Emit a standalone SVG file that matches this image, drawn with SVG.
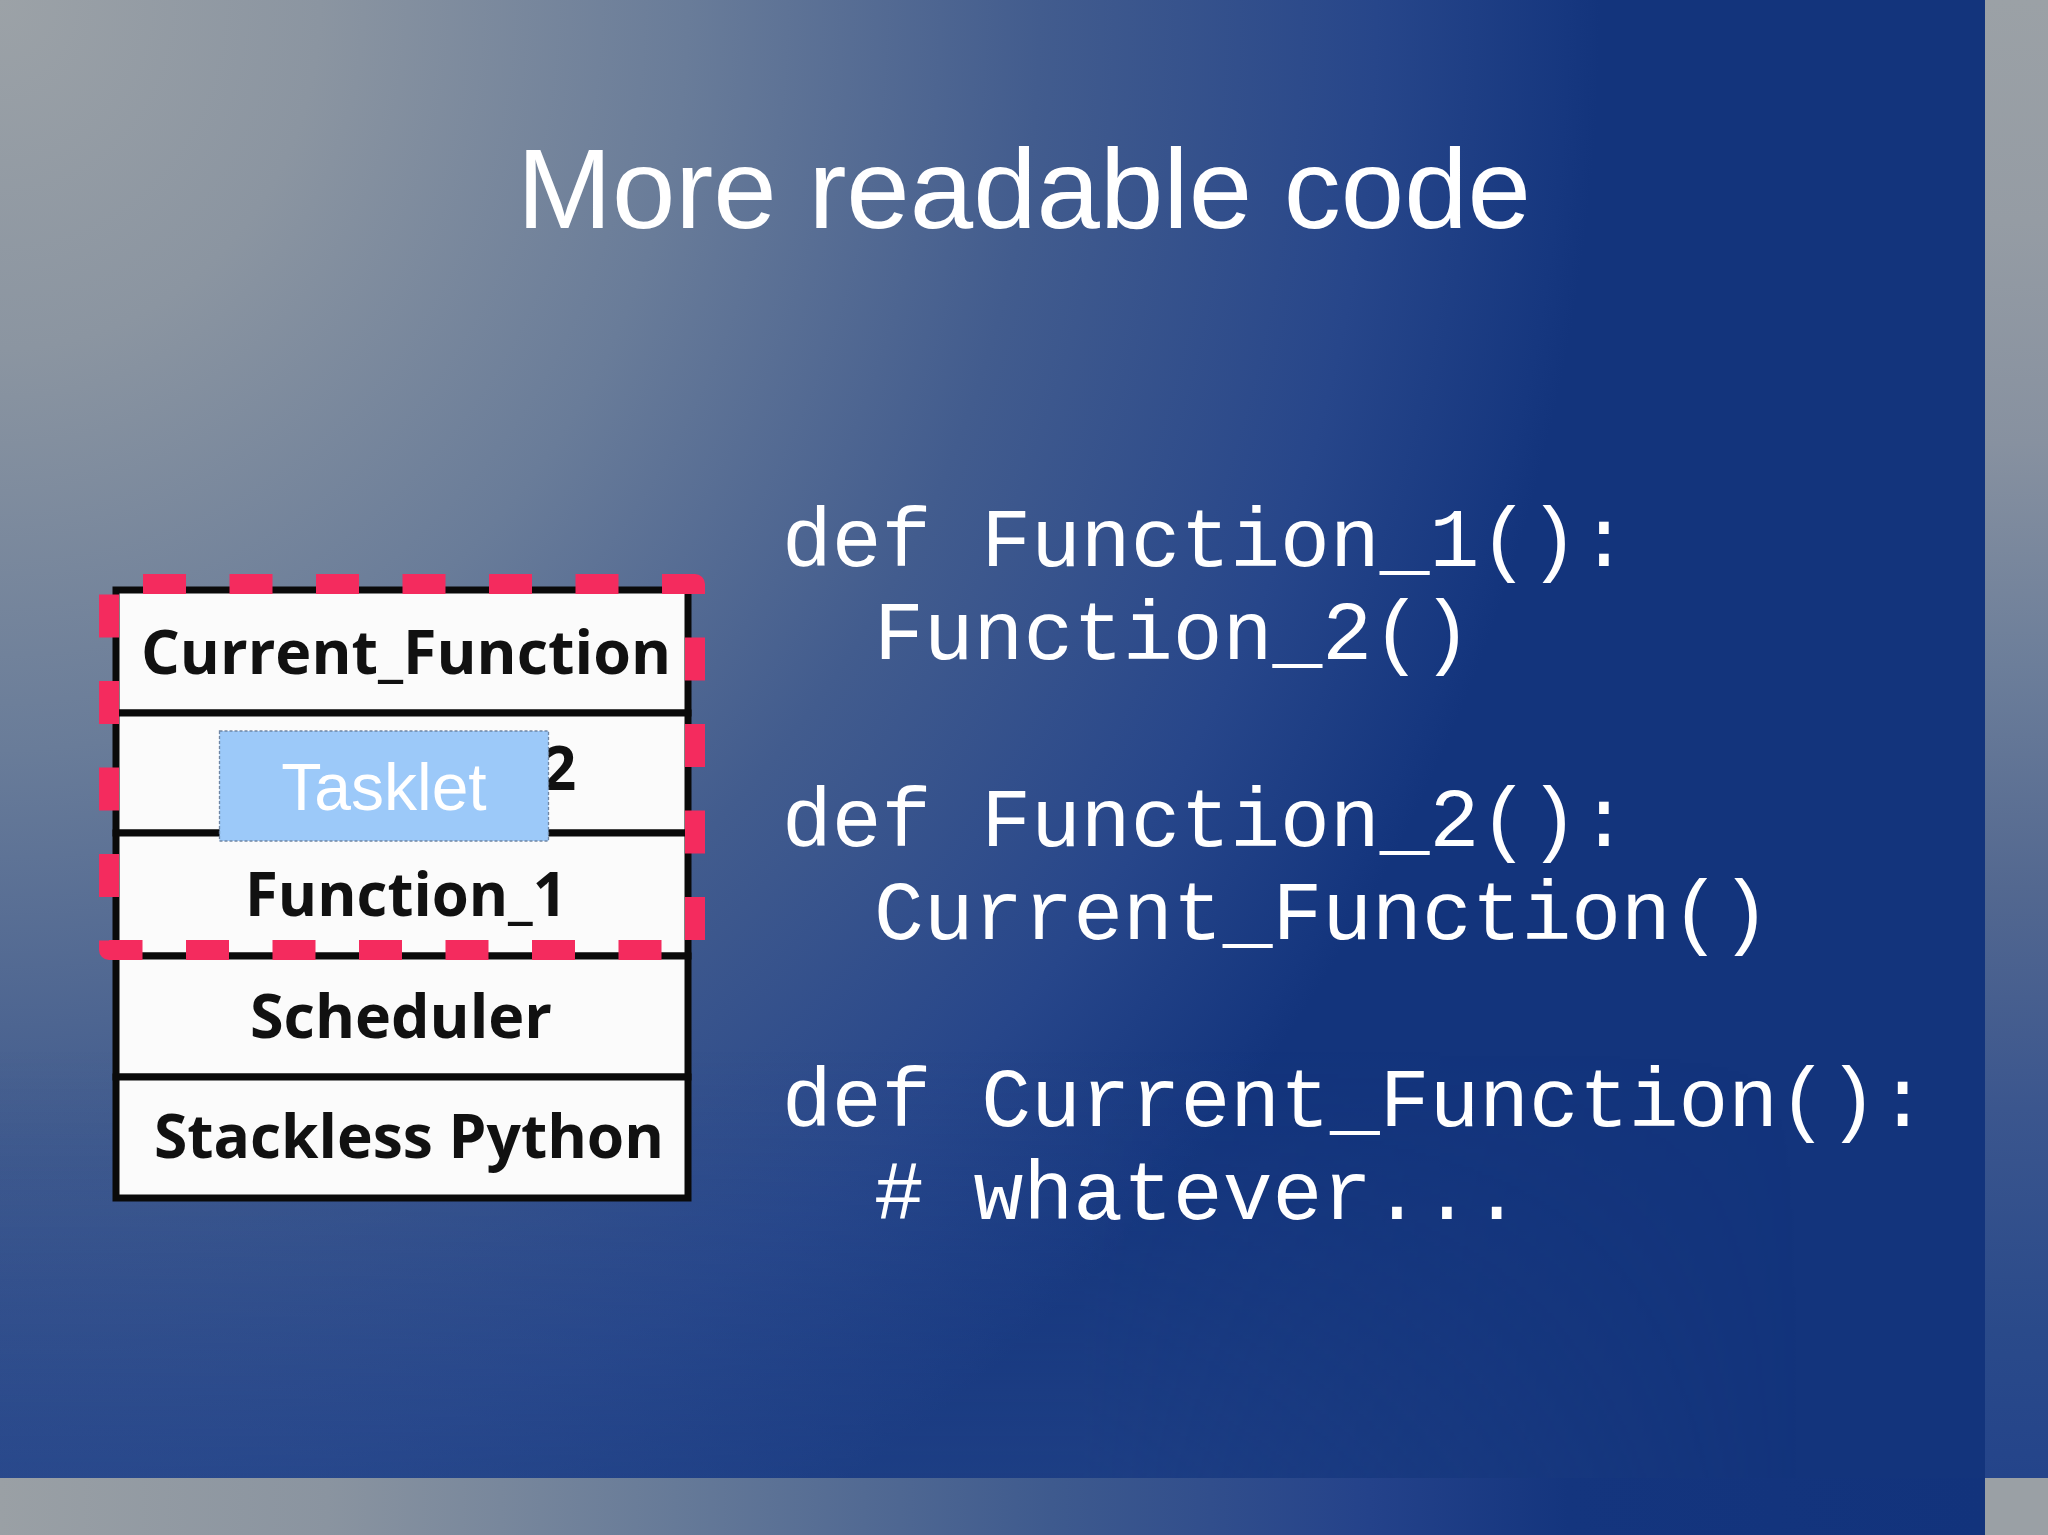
<svg xmlns="http://www.w3.org/2000/svg" width="2048" height="1535" viewBox="0 0 2048 1535">
  <defs>
    <radialGradient id="bgSlide" gradientUnits="userSpaceOnUse" cx="0" cy="0" r="1600" gradientTransform="scale(1,1.09)">
      <stop offset="0" stop-color="#9ca2a7"/>
      <stop offset="0.2" stop-color="#8b95a1"/>
      <stop offset="0.43" stop-color="#697c99"/>
      <stop offset="0.65" stop-color="#425c8e"/>
      <stop offset="0.86" stop-color="#27468a"/>
      <stop offset="0.98" stop-color="#16377f"/>
      <stop offset="1" stop-color="#13347c"/>
    </radialGradient>
    <linearGradient id="bottomGlow" gradientUnits="userSpaceOnUse" x1="0" y1="1050" x2="0" y2="1478">
      <stop offset="0" stop-color="#2a4b8e" stop-opacity="0"/>
      <stop offset="1" stop-color="#2a4b8e" stop-opacity="0.45"/>
    </linearGradient>
    <linearGradient id="glowFade" gradientUnits="userSpaceOnUse" x1="0" y1="0" x2="1800" y2="0">
      <stop offset="0" stop-color="#ffffff"/>
      <stop offset="0.6" stop-color="#ffffff"/>
      <stop offset="1" stop-color="#000000"/>
    </linearGradient>
    <mask id="glowMask" maskUnits="userSpaceOnUse" x="0" y="0" width="1985" height="1478">
      <rect x="0" y="0" width="1985" height="1478" fill="url(#glowFade)"/>
    </mask>
    <linearGradient id="bgRight" gradientUnits="userSpaceOnUse" x1="0" y1="0" x2="0" y2="1478">
      <stop offset="0" stop-color="#9ba1a6"/>
      <stop offset="0.15" stop-color="#959ca4"/>
      <stop offset="0.3" stop-color="#8791a0"/>
      <stop offset="0.45" stop-color="#6c7e9a"/>
      <stop offset="0.6" stop-color="#536890"/>
      <stop offset="0.75" stop-color="#3b568e"/>
      <stop offset="0.9" stop-color="#2a4a8a"/>
      <stop offset="1" stop-color="#24448a"/>
    </linearGradient>
    <linearGradient id="bgBottom" gradientUnits="userSpaceOnUse" x1="0" y1="0" x2="1985" y2="0">
      <stop offset="0" stop-color="#9aa0a5"/>
      <stop offset="0.165" stop-color="#8a94a0"/>
      <stop offset="0.34" stop-color="#667a98"/>
      <stop offset="0.53" stop-color="#3e5a8e"/>
      <stop offset="0.69" stop-color="#24428a"/>
      <stop offset="0.79" stop-color="#14357e"/>
      <stop offset="1" stop-color="#12337c"/>
    </linearGradient>
  </defs>
  <style>
    .title { font-family: "Liberation Sans", Arial, sans-serif; font-size: 114px; fill: #ffffff; }
    .code { font-family: "Courier New", "Liberation Mono", monospace; font-size: 83px; fill: #ffffff; }
    .row { fill: #fbfbfb; stroke: #0a0a0a; stroke-width: 7; }
    .rowtxt { font-family: "Open Sans", "Noto Sans", sans-serif; font-weight: 700; font-size: 60px; fill: #111111; }
    .tasklet { fill: #9cc9f9; stroke: #6f86a4; stroke-width: 1.3; stroke-dasharray: 3 2; }
    .tasklettxt { font-family: "Liberation Sans", Arial, sans-serif; font-size: 66px; fill: #ffffff; }
    .highlight { fill: none; stroke: #f42b5e; stroke-width: 20; stroke-dasharray: 43 43.5; stroke-dashoffset: 52.5; stroke-linejoin: round; }
  </style>

  <g id="background">
    <rect x="0" y="0" width="1985" height="1478" fill="url(#bgSlide)"/>
    <rect x="0" y="1050" width="1985" height="428" fill="url(#bottomGlow)" mask="url(#glowMask)"/>
    <rect x="1985" y="0" width="63" height="1478" fill="url(#bgRight)"/>
    <rect x="0" y="1478" width="1985" height="57" fill="url(#bgBottom)"/>
    <rect x="1985" y="1478" width="63" height="57" fill="#9aa0a5"/>
  </g>

  <g id="title">
    <text class="title" x="1024" y="228" text-anchor="middle">More readable code</text>
  </g>

  <g id="stack">
    <g id="row-current-function">
      <rect class="row" x="116" y="590" width="572" height="123"/>
      <text class="rowtxt" x="141" y="674" textLength="530" lengthAdjust="spacingAndGlyphs">Current_Function</text>
    </g>
    <g id="row-function-2">
      <rect class="row" x="116" y="713" width="572" height="120"/>
      <text class="rowtxt" x="542" y="790" font-size="54">2</text>
    </g>
    <g id="row-function-1">
      <rect class="row" x="116" y="833" width="572" height="123"/>
      <text class="rowtxt" x="245" y="916" textLength="322" lengthAdjust="spacingAndGlyphs">Function_1</text>
    </g>
    <g id="row-scheduler">
      <rect class="row" x="116" y="956" width="572" height="121"/>
      <text class="rowtxt" x="250" y="1038" textLength="302" lengthAdjust="spacingAndGlyphs">Scheduler</text>
    </g>
    <g id="row-stackless-python">
      <rect class="row" x="116" y="1077" width="572" height="121"/>
      <text class="rowtxt" x="154" y="1158" textLength="510" lengthAdjust="spacingAndGlyphs">Stackless Python</text>
    </g>
  </g>

  <g id="tasklet">
    <rect class="tasklet" x="219.5" y="731" width="329" height="110"/>
    <text class="tasklettxt" x="384" y="810" text-anchor="middle">Tasklet</text>
  </g>

  <g id="tasklet-highlight">
    <path class="highlight" d="M109,584 H695 V950 H109 Z"/>
  </g>

  <g id="connectors"></g>

  <g id="code">
    <text class="code" x="782" y="566" xml:space="preserve">def Function_1():</text>
    <text class="code" x="874" y="659" xml:space="preserve">Function_2()</text>
    <text class="code" x="782" y="846" xml:space="preserve">def Function_2():</text>
    <text class="code" x="874" y="939" xml:space="preserve">Current_Function()</text>
    <text class="code" x="782" y="1126" xml:space="preserve">def Current_Function():</text>
    <text class="code" x="874" y="1219" xml:space="preserve"># whatever...</text>
  </g>
</svg>
